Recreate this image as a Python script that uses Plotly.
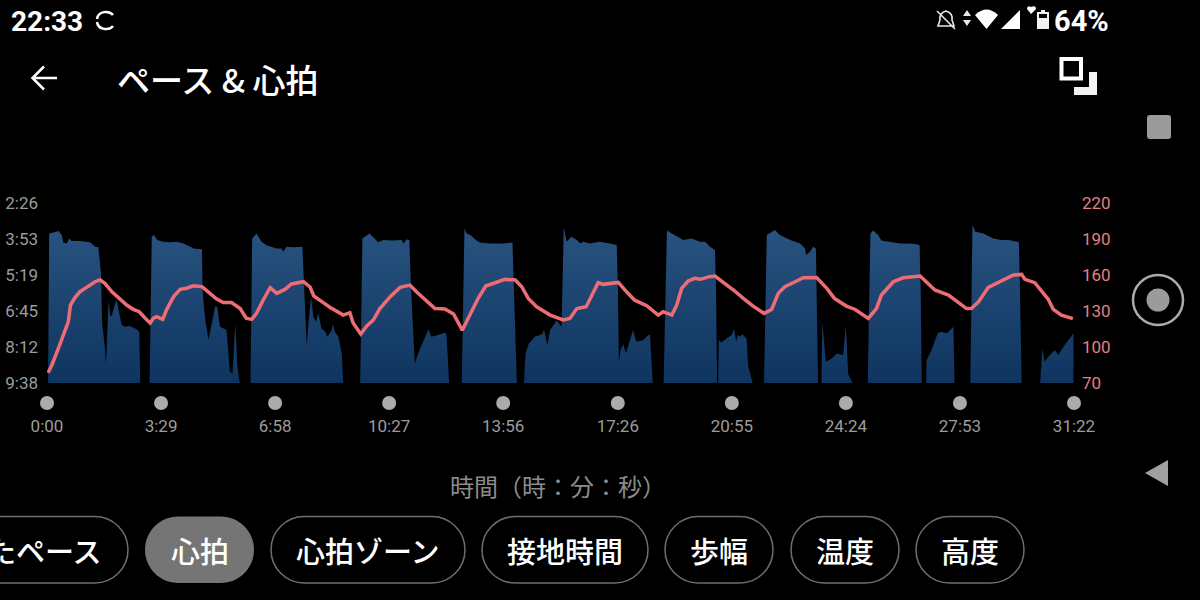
import plotly.graph_objects as go

# Time in seconds, pace in seconds per km, one pair of lists per block of the pace area
pace_time = [
 [2,4,12,21,27,30,36,41,45,60,79,88,94,99,101,106,108,111,113,116,119,125,128,131,137,143,152,164,169,171],
 [188,192,196,202,213,226,238,250,269,284,285,290,296,302,308,312,317,329,335,340,345,349,353],
 [373,376,384,393,403,421,430,433,439,451,468,471,476,479,484,488,493,497,503,510,514,522,524,527,534,540,543],
 [574,578,591,601,607,616,635,650,653,660,664,667,671,674,680,693,699,704,717,729,732,737],
 [760,765,769,776,786,793,812,836,853,856,861],
 [874,877,883,894,907,911,917,922,934,943,947,952,961,971,977,983,995,1013,1032,1044,1046,1048,1051,1056,1061,1068,1074,1080,1093,1102,1105,1110],
 [1130,1136,1145,1157,1166,1181,1197,1206,1215,1224,1226,1228],
 [1230,1231,1236,1245,1255,1259,1263,1266,1270,1274,1282,1285,1288,1293],
 [1314,1319,1334,1343,1362,1380,1389,1391,1398,1404,1409,1413],
 [1419,1421,1427,1438,1447,1459,1464,1468,1476],
 [1504,1509,1514,1523,1529,1545,1563,1588,1599,1601,1603],
 [1611,1612,1621,1632,1639,1649,1661,1663],
 [1692,1696,1701,1716,1734,1749,1762,1781,1783,1786],
 [1820,1824,1828,1835,1847,1853,1865,1881,1881],
]
pace_sec = [
 [578,219,217,213,223,241,243,231,237,237,240,251,252,315,435,491,535,435,379,419,415,387,379,403,439,443,441,449,455,578],
 [578,227,223,235,239,240,239,243,255,257,355,427,475,431,395,395,443,451,551,555,435,539,578],
 [578,231,219,239,248,255,255,263,251,252,251,355,491,435,371,419,431,411,447,455,467,451,435,455,467,507,578],
 [578,231,219,231,240,235,236,235,243,233,235,347,475,532,507,467,449,467,463,457,463,578],
 [578,207,219,223,235,241,243,243,241,355,578],
 [578,507,483,467,461,451,487,451,428,443,203,239,227,235,243,239,243,239,243,247,339,531,499,485,507,475,451,479,475,463,463,578],
 [578,212,219,227,235,231,239,239,251,259,355,578],
 [578,475,481,471,463,449,479,463,467,461,471,539,551,578],
 [578,223,211,223,235,243,255,271,263,251,255,578],
 [578,431,527,519,507,511,439,555,578],
 [578,219,212,223,236,239,243,244,247,355,578],
 [578,523,499,459,455,459,443,578],
 [578,199,215,219,231,235,235,240,355,578],
 [578,495,527,515,499,511,487,459,578],
]
hr_time = [2,9,21,33,39,43,51,60,73,88,97,106,119,131,146,158,169,180,189,195,201,212,219,232,244,256,268,284,296,311,323,338,354,365,375,384,396,409,421,436,448,470,482,489,503,519,543,555,561,575,586,598,610,629,647,665,677,693,711,729,745,761,775,790,804,818,839,858,870,882,897,922,946,958,971,988,1010,1019,1047,1062,1077,1099,1120,1129,1145,1154,1163,1175,1187,1197,1214,1224,1242,1258,1276,1294,1314,1328,1340,1352,1371,1386,1410,1429,1443,1465,1481,1505,1520,1529,1551,1569,1600,1627,1652,1685,1694,1707,1725,1746,1771,1786,1792,1810,1835,1844,1859,1880]
hr_bpm = [78.6,85,99,113,121,135,141,146,150,154.4,156,153,146,141,135,131.4,129.4,124,120,124,125.2,123,131,142,148,149,151,150.2,146,140,137,137,132,124,123,128,139,149.4,144.7,148,152.5,154.4,150,142.5,138,133,126.6,128.6,120,110.8,117.5,122.5,132,142,149.7,151.6,146,139,132,131.6,127.5,114,126.6,140.5,150.8,153,156.4,155.8,150.2,140.5,133.6,126.6,122.5,123.8,132,133.6,153.6,152.2,153.8,146,139,134.4,126.6,129.4,126.6,135,148.8,155,157.2,156.4,158.6,159.1,153,147.5,140.5,134.1,128,131.3,144.7,150.2,154.4,157.7,158,148.9,140.5,134.1,131.3,123.8,132,143.3,154.4,157.7,159.1,147.5,143.3,132,132,137.7,149.7,154.4,160,160.5,156.4,153.6,139.7,131.3,126.6,123.6]

time_ticks = [0,209,418,627,836,1046,1255,1464,1673,1882]
time_labels = ["0:00","3:29","6:58","10:27","13:56","17:26","20:55","24:24","27:53","31:22"]
pace_ticks = [146,233,319,406,492,578]
pace_labels = ["2:26","3:53","5:19","6:45","8:12","9:38"]
hr_ticks = [70,100,130,160,190,220]
axis_title = "時間（時：分：秒）"
page_title = "ペース & 心拍"
pill_labels = ["たペース","心拍","心拍ゾーン","接地時間","歩幅","温度","高度"]
pill_edges = [(-40,128),(145,254),(271,465),(482,648),(665,773),(791,899),(916,1024)]

JP = "Noto Sans CJK JP"
BLUE_TOP, BLUE_BOTTOM = "#28527f", "#0f3460"
RED = "#f06c75"

px, py = [], []
for t, p in zip(pace_time, pace_sec):
    px += t + [None]
    py += p + [None]

fig = go.Figure()
fig.add_trace(go.Scatter(x=px, y=py, mode="lines", line=dict(width=0), fill="toself",
    fillcolor=BLUE_BOTTOM,
    fillgradient=dict(type="vertical", start=215, stop=578,
                      colorscale=[[0, BLUE_TOP], [1, BLUE_BOTTOM]]),
    hoverinfo="skip", xaxis="x", yaxis="y"))
fig.add_trace(go.Scatter(x=hr_time, y=hr_bpm, mode="lines", line=dict(color=RED, width=3.5),
    xaxis="x", yaxis="y2"))
fig.add_trace(go.Scatter(x=time_ticks, y=[403]*len(time_ticks), mode="markers",
    marker=dict(size=14, color="#ababab"), cliponaxis=False, xaxis="x", yaxis="y3"))
# Empty trace that keeps the full-page helper axes alive for the page furniture
fig.add_trace(go.Scatter(x=[0, 1200], y=[0, 600], mode="none", hoverinfo="skip", xaxis="x3", yaxis="y3"))

shapes, notes = [], []
def S(path, fill=None, line=None, w=0):
    shapes.append(dict(type="path", path=path, xref="x3", yref="y3", layer="above",
        fillcolor=fill or "rgba(0,0,0,0)", line=dict(color=line or "rgba(0,0,0,0)", width=w)))
def C(cx, cy, r, fill=None, line=None, w=0):
    shapes.append(dict(type="circle", x0=cx-r, x1=cx+r, y0=cy-r, y1=cy+r, xref="x3", yref="y3", layer="above",
        fillcolor=fill or "rgba(0,0,0,0)", line=dict(color=line or "rgba(0,0,0,0)", width=w)))
def T(text, x, y, size, color="#ffffff", family=JP, anchor="center", weight=500):
    notes.append(dict(text=text, x=x, y=y, xref="x3", yref="y3", showarrow=False, xanchor=anchor,
        yanchor="middle", font=dict(family=family, size=size, color=color, weight=weight)))

T("22:33", 9, 21, 28, family="Roboto", anchor="left", weight=700)
T(page_title, 115, 79, 33, anchor="left")
T("64%", 1052, 21, 29, family="Roboto", anchor="left", weight=700)
T(axis_title, 448, 485, 24, color="#8c8c8c", anchor="left", weight=400)

# pills
top, bot = 516.5, 583
r = 33.25
k = r * 0.5523
my = (top + bot) / 2
for i, ((a, b), lab) in enumerate(zip(pill_edges, pill_labels)):
    p = (f"M{a+r} {top} L{b-r} {top} C{b-r+k} {top} {b} {my-k} {b} {my} C{b} {my+k} {b-r+k} {bot} {b-r} {bot} "
         f"L{a+r} {bot} C{a+r-k} {bot} {a} {my+k} {a} {my} C{a} {my-k} {a+r-k} {top} {a+r} {top} Z")
    if i == 1:
        S(p, fill="#757575")
    else:
        S(p, line="#6e6e6e", w=1.5)
    if i == 0:
        T(lab, 104, 550, 29, anchor="right")
    else:
        T(lab, (a+b)/2, 550, 29)

# back arrow, expand icon
S("M33 78 L57 78 M44 66.5 L32.5 78 L44 89.5", line="#ffffff", w=2.5)
S("M1061.5 59 L1081 59 L1081 78.5 L1061.5 78.5 Z", line="#ffffff", w=4)
S("M1089 72 L1097 72 L1097 95 L1074 95 L1074 87 L1089 87 Z", fill="#f2f2f2")
# navigation buttons
S("M1150 115 L1168 115 Q1171 115 1171 118 L1171 136 Q1171 139 1168 139 L1150 139 Q1147 139 1147 136 L1147 118 Q1147 115 1150 115 Z", fill="#9b9b9b")
C(1158, 300, 25, line="#ababab", w=2.5)
C(1158, 300, 11.5, fill="#9b9b9b")
S("M1145 473 L1168 460 L1168 486 Z", fill="#a0a0a0")
# status icons
S("M113 15 C109 10 98 11 97 19", line="#ffffff", w=2.5)
S("M97 22 C98 30 109 31 113 26", line="#ffffff", w=2.5)
S("M946 11 Q939 13 940 20 L938 26 L954 26 L952 20 Q953 13 946 11 Z M937 11 L955 29", line="#e8e8e8", w=1.6)
S("M967 10 L971 16 L963 16 Z M963 20 L971 20 L967 26 Z", fill="#e8e8e8")
S("M975 15 Q986.5 4 998 15 L986.5 29 Z", fill="#ffffff")
S("M1001 29 L1020 29 L1020 10 Z", fill="#ffffff")
S("M1031 14 L1027 9 Q1027 5 1031 7 Q1036 5 1036 9 Z", fill="#ffffff")
S("M1041 10 L1045 10 L1045 12 L1049 12 L1049 29 L1037 29 L1037 12 L1041 12 Z M1039 14 L1039 18 L1047 18 L1047 14 Z", fill="#f2f2f2")

tick_font = dict(family="Roboto", size=17, color="#9c9c9c")
fig.update_layout(
    width=1200, height=600, margin=dict(l=0, r=0, t=0, b=0, pad=0, autoexpand=False),
    paper_bgcolor="#000000", plot_bgcolor="rgba(0,0,0,0)", showlegend=False,
    shapes=shapes, annotations=notes,
    xaxis=dict(domain=[47/1200, 1074/1200], range=[0, 1882], tickvals=time_ticks, ticktext=time_labels,
               showgrid=False, zeroline=False, showline=False, ticks="", tickfont=tick_font,
               ticklabelstandoff=31, anchor="y"),
    yaxis=dict(domain=[217/600, 397/600], range=[578, 146], tickvals=pace_ticks, ticktext=pace_labels,
               showgrid=False, zeroline=False, showline=False, ticks="", tickfont=tick_font,
               ticklabelstandoff=8, anchor="x"),
    yaxis2=dict(range=[70, 220], tickvals=hr_ticks, overlaying="y", side="right",
                showgrid=False, zeroline=False, showline=False, ticks="", anchor="x",
                tickfont=dict(family="Roboto", size=17, color="#e57f80"), ticklabelstandoff=7),
    xaxis3=dict(domain=[0, 1], range=[0, 1200], visible=False, anchor="y3"),
    yaxis3=dict(domain=[0, 1], range=[600, 0], visible=False, anchor="x3"),
)
fig.write_html("out.html", config=dict(displayModeBar=False),
    post_script="document.body.style.margin='0';document.body.style.background='#000';document.documentElement.style.overflow='hidden';")
